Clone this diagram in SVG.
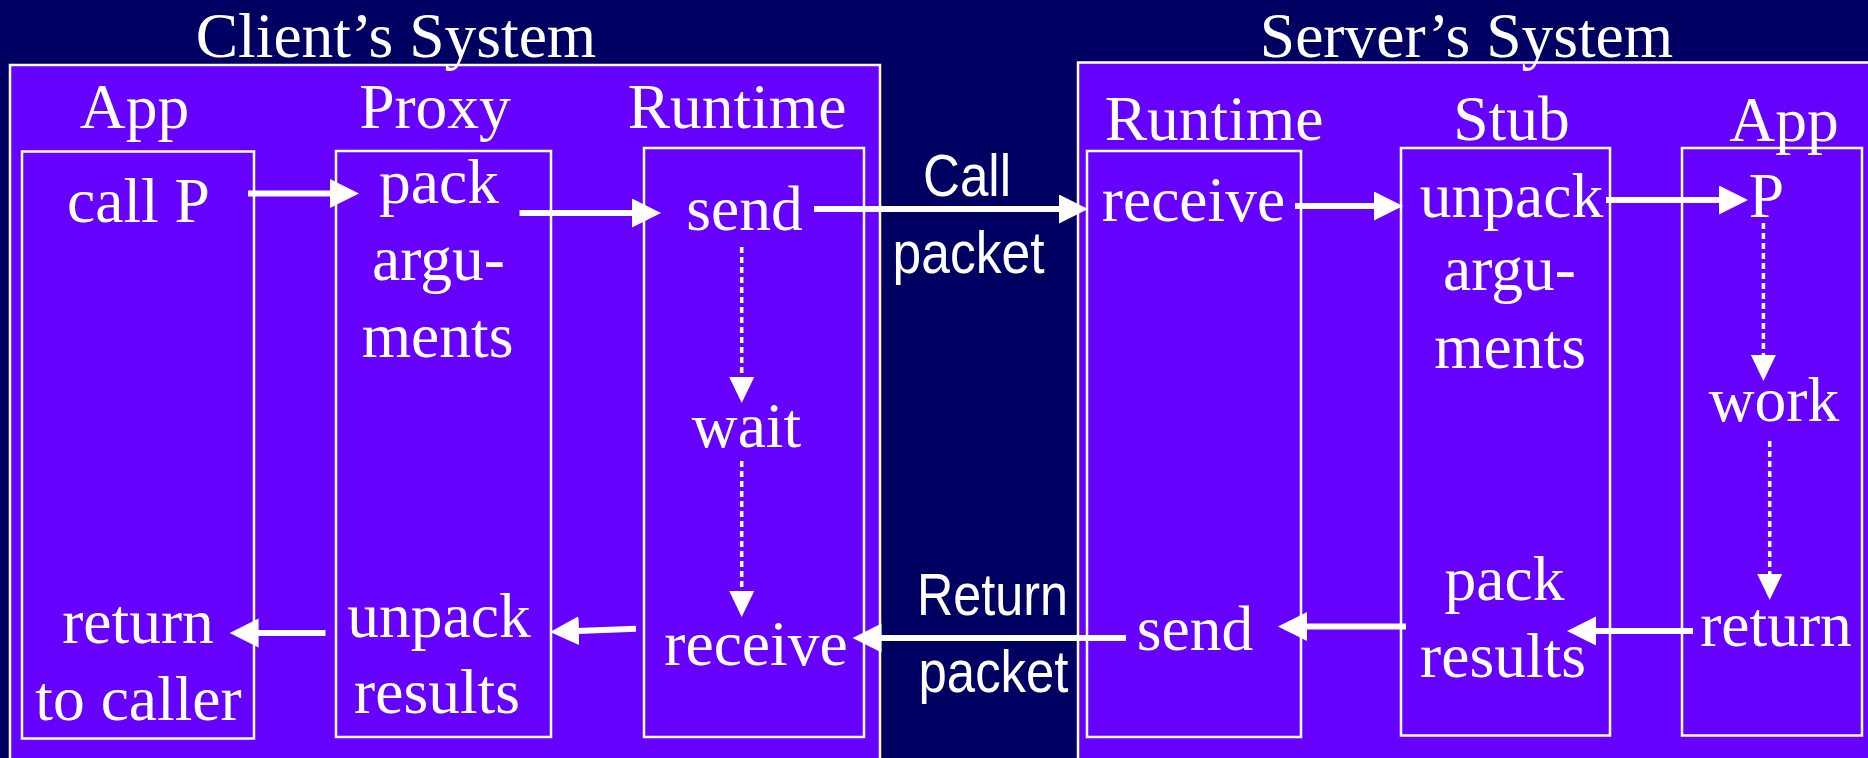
<svg xmlns="http://www.w3.org/2000/svg" width="1868" height="758" viewBox="0 0 1868 758">
  <style>
    .box { fill: #6600ff; stroke: #ffffff; stroke-width: 2.5; }
    .lbl { font-family: "Liberation Serif", "Times New Roman", serif; font-size: 63.5px; fill: #ffffff; text-anchor: middle; }
    .sans { font-family: "Liberation Sans", Arial, sans-serif; font-size: 60px; fill: #ffffff; text-anchor: middle; }
    .flow { fill: none; stroke: #ffffff; stroke-width: 6; }
    .wait { fill: none; stroke: #ffffff; stroke-width: 3.5; stroke-dasharray: 6 4; }
  </style>
  <defs>
    <marker id="head" markerUnits="userSpaceOnUse" markerWidth="30" markerHeight="30" refX="2" refY="14.5" orient="auto">
      <path d="M0,0 L29,14.5 L0,29 Z" fill="#ffffff"/>
    </marker>
    <marker id="headSmall" markerUnits="userSpaceOnUse" markerWidth="27" markerHeight="26" refX="2" refY="12.5" orient="auto">
      <path d="M0,0 L26,12.5 L0,25 Z" fill="#ffffff"/>
    </marker>
  </defs>

  <rect x="0" y="0" width="1868" height="758" fill="#000062"/>

  <!-- Client side -->
  <g id="client-system">
    <rect class="box" x="10" y="65" width="870" height="760"/>
    <text class="lbl" x="396" y="57">Client&#8217;s System</text>
  </g>
  <g id="client-app">
    <text class="lbl" x="134.5" y="128">App</text>
    <rect class="box" x="22" y="151.5" width="232" height="587"/>
    <text class="lbl" x="138.5" y="222">call P</text>
    <text class="lbl" x="138" y="643">return</text>
    <text class="lbl" x="138.5" y="720">to caller</text>
  </g>
  <g id="client-proxy">
    <text class="lbl" x="435" y="128">Proxy</text>
    <rect class="box" x="336" y="151" width="215" height="586"/>
    <text class="lbl" x="439" y="203">pack</text>
    <text class="lbl" x="438.5" y="280">argu-</text>
    <text class="lbl" x="437.5" y="357">ments</text>
    <text class="lbl" x="439" y="637">unpack</text>
    <text class="lbl" x="437" y="713">results</text>
  </g>
  <g id="client-runtime">
    <text class="lbl" x="737" y="128">Runtime</text>
    <rect class="box" x="644" y="148" width="220" height="589"/>
    <text class="lbl" x="744.5" y="230">send</text>
    <text class="lbl" x="746.5" y="447">wait</text>
    <text class="lbl" x="756" y="665">receive</text>
  </g>

  <!-- Server side -->
  <g id="server-system">
    <rect class="box" x="1078" y="62.5" width="840" height="760"/>
    <text class="lbl" x="1466.5" y="57">Server&#8217;s System</text>
  </g>
  <g id="server-runtime">
    <text class="lbl" x="1214" y="140">Runtime</text>
    <rect class="box" x="1087" y="151" width="214" height="586"/>
    <text class="lbl" x="1193.5" y="221">receive</text>
    <text class="lbl" x="1195" y="650">send</text>
  </g>
  <g id="server-stub">
    <text class="lbl" x="1511.5" y="140">Stub</text>
    <rect class="box" x="1401" y="148" width="209" height="587.5"/>
    <text class="lbl" x="1511.5" y="217">unpack</text>
    <text class="lbl" x="1509.5" y="290">argu-</text>
    <text class="lbl" x="1510" y="368">ments</text>
    <text class="lbl" x="1504.5" y="600">pack</text>
    <text class="lbl" x="1503" y="677">results</text>
  </g>
  <g id="server-app">
    <rect class="box" x="1682" y="148" width="180" height="587.5"/>
    <text class="lbl" x="1784" y="141">App</text>
    <text class="lbl" x="1766.5" y="217">P</text>
    <text class="lbl" x="1774" y="421">work</text>
    <text class="lbl" x="1776" y="646">return</text>
  </g>

  <!-- Packet labels between the systems -->
  <g id="packet-labels">
    <text class="sans" x="967" y="196" textLength="88" lengthAdjust="spacingAndGlyphs">Call</text>
    <text class="sans" x="968.5" y="273" textLength="152" lengthAdjust="spacingAndGlyphs">packet</text>
    <text class="sans" x="992.5" y="615" textLength="151" lengthAdjust="spacingAndGlyphs">Return</text>
    <text class="sans" x="993.5" y="691.5" textLength="150" lengthAdjust="spacingAndGlyphs">packet</text>
  </g>

  <!-- Connectors -->
  <g id="connectors">
    <!-- outbound call -->
    <line class="flow" x1="248" y1="193.5" x2="332" y2="193.5" marker-end="url(#head)"/>
    <line class="flow" x1="519.5" y1="213" x2="634" y2="213" marker-end="url(#head)"/>
    <line class="flow" x1="814" y1="209" x2="1061" y2="209" marker-end="url(#head)"/>
    <line class="flow" x1="1295" y1="206" x2="1376" y2="206" marker-end="url(#head)"/>
    <line class="flow" x1="1606" y1="200" x2="1721" y2="200" marker-end="url(#head)"/>
    <!-- return path -->
    <line class="flow" x1="1693" y1="631" x2="1594" y2="631" marker-end="url(#head)"/>
    <line class="flow" x1="1406" y1="626.5" x2="1305" y2="626.5" marker-end="url(#head)"/>
    <line class="flow" x1="1126" y1="638" x2="879.5" y2="638" marker-end="url(#head)"/>
    <line class="flow" x1="636" y1="628.7" x2="577" y2="630.9" marker-end="url(#head)"/>
    <line class="flow" x1="325.5" y1="633" x2="256.6" y2="633" marker-end="url(#head)"/>
    <!-- waiting / processing -->
    <line class="wait" x1="741.7" y1="247" x2="741.7" y2="379" marker-end="url(#headSmall)"/>
    <line class="wait" x1="741.7" y1="461" x2="741.7" y2="593" marker-end="url(#headSmall)"/>
    <line class="wait" x1="1763.4" y1="223" x2="1763.4" y2="357" marker-end="url(#headSmall)"/>
    <line class="wait" x1="1769.7" y1="441" x2="1769.7" y2="576" marker-end="url(#headSmall)"/>
  </g>
</svg>
